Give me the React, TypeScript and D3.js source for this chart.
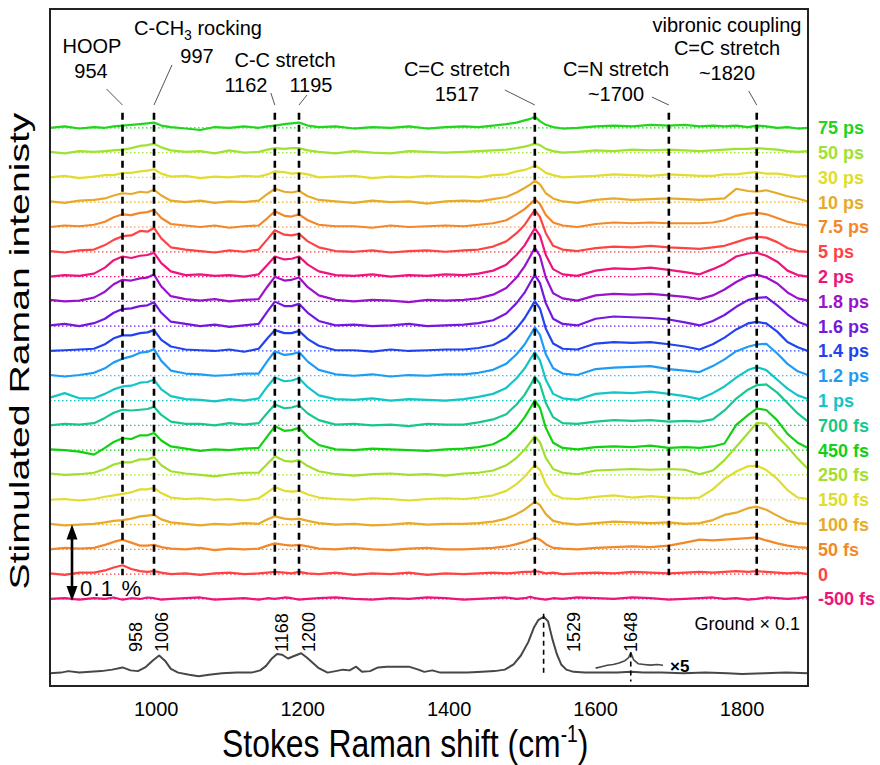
import React from 'react';
import * as d3 from 'd3';

// sampling grid of the transient spectra (cm-1)
const shifts = [855, 875, 895, 915, 930, 942, 954, 966, 978, 988, 997, 1007, 1020, 1040, 1060, 1080, 1100, 1120, 1140, 1152, 1162, 1175, 1185, 1195, 1207, 1222, 1245, 1270, 1295, 1320, 1345, 1370, 1395, 1420, 1440, 1460, 1478, 1492, 1503, 1511, 1517, 1524, 1532, 1542, 1555, 1575, 1600, 1625, 1650, 1675, 1700, 1722, 1742, 1760, 1776, 1792, 1808, 1820, 1833, 1848, 1862, 1876, 1890];

const delays = ['75 ps', '50 ps', '30 ps', '10 ps', '7.5 ps', '5 ps', '2 ps', '1.8 ps', '1.6 ps', '1.4 ps', '1.2 ps', '1 ps', '700 fs', '450 fs', '250 fs', '150 fs', '100 fs', '50 fs', '0', '-500 fs'];
const colors = ['#22d41e', '#9fe134', '#e0dc30', '#e6aa2c', '#f2882a', '#fc4444', '#ee147c', '#9a12cc', '#7418e0', '#2244f0', '#1e9cf5', '#14c4c6', '#16c88e', '#14d014', '#a2de30', '#e0dc30', '#e6aa2c', '#f2882a', '#fc4444', '#ee147c'];

// stimulated Raman gain, units of 0.001 %
const s75ps = [0, 2, -1, 1, 0, 2, 3, 4, 5, 6, 7, 3, 1, -1, -3, 1, 0, 2, 0, 2, 3, 5, 6, 7, 3, 1, 2, -1, 1, 0, 2, -1, 1, 2, 1, 3, 5, 7, 10, 12, 15, 9, 4, 1, -1, 0, 2, 3, 2, 4, 3, 4, 2, 3, 2, 3, 1, 3, 2, 0, 1, -1, 0];
const s50ps = [1, -1, 2, 1, 2, 3, 4, 6, 9, 10, 12, 7, 3, 1, 2, -1, 3, 0, 1, 4, 6, 5, 6, 6, 3, 1, -1, 2, 0, -1, 2, 1, 0, 1, 2, 3, 4, 6, 8, 10, 12, 10, 5, 2, 0, 1, 3, 2, 4, 3, 4, 3, 2, 3, 4, 5, 5, 6, 5, 4, 2, 1, 2];
const s30ps = [0, 2, -1, 1, 3, 3, 6, 6, 8, 9, 11, 5, 1, 2, -1, 1, 0, 2, 1, 4, 8, 7, 5, 6, 4, 0, 1, 2, -1, 1, 0, 2, 1, 1, 0, 3, 4, 8, 10, 13, 16, 12, 6, 3, 0, 1, 2, 4, 3, 2, 4, 3, 2, 2, 4, 4, 6, 7, 5, 5, 3, 1, 2];
const s10ps = [1, -1, 2, 3, 5, 9, 12, 11, 14, 13, 17, 9, 2, 0, 2, -1, 1, 0, 2, 11, 18, 14, 13, 15, 8, 3, 1, -1, 2, 0, 1, -2, 1, 2, 1, 4, 7, 13, 19, 24, 29, 24, 12, 5, 1, -1, 3, 5, 3, 4, 5, 4, 3, 4, 5, 18, 15, 14, 16, 12, 8, 5, 1];
const s7p5ps = [0, 2, 1, 3, 7, 13, 17, 16, 19, 20, 23, 12, 4, 2, 0, 2, -1, 1, 2, 12, 21, 15, 14, 17, 9, 3, 1, 1, -1, 2, 0, 1, 2, 1, 3, 5, 9, 17, 24, 31, 37, 31, 16, 6, 2, 0, 4, 6, 5, 6, 5, 5, 5, 6, 9, 15, 18, 19, 17, 12, 7, 4, 2];
const s5ps = [1, -1, 2, 3, 9, 16, 21, 22, 28, 27, 32, 18, 6, 3, 1, -1, 2, 0, 3, 17, 29, 23, 22, 24, 14, 6, 1, 0, 2, -1, 1, 2, 0, 2, 3, 7, 14, 25, 36, 48, 56, 47, 25, 8, 3, 1, 5, 7, 6, 8, 6, 5, 4, 6, 8, 13, 18, 20, 19, 13, 5, 1, 0];
const s2ps = [0, 2, 1, 4, 12, 22, 27, 25, 28, 29, 32, 18, 7, 2, 3, 1, 2, 0, 3, 16, 27, 23, 24, 27, 16, 7, 2, 1, 3, 0, 2, 1, 3, 2, 4, 8, 16, 29, 42, 55, 65, 55, 29, 10, 3, 1, 8, 11, 10, 12, 9, 6, 3, 10, 17, 27, 31, 32, 28, 20, 8, 2, 0];
const s1p8ps = [2, 0, 1, 5, 13, 23, 29, 28, 31, 32, 36, 20, 7, 3, 1, 3, 0, 2, 3, 20, 33, 28, 29, 32, 19, 8, 2, 0, 2, 1, -1, 2, 1, 2, 4, 9, 18, 32, 47, 61, 72, 61, 32, 11, 4, 1, 8, 10, 9, 10, 8, 6, 3, 8, 16, 26, 34, 36, 32, 24, 12, 4, 1];
const s1p6ps = [1, 3, 0, 4, 10, 18, 23, 24, 27, 28, 32, 18, 6, 3, 0, 2, -1, 1, 3, 20, 33, 27, 27, 30, 18, 7, 1, 2, 0, 1, 3, 0, 1, 2, 4, 8, 17, 31, 45, 59, 69, 58, 31, 10, 3, 1, 10, 13, 12, 11, 9, 5, 1, 7, 15, 26, 35, 38, 39, 28, 16, 6, 1];
const s1p4ps = [0, 1, 2, 3, 9, 17, 21, 21, 24, 25, 28, 15, 6, 2, 1, 0, 2, -1, 3, 17, 28, 24, 24, 27, 16, 7, 1, 1, -1, 2, 0, 1, 2, 2, 4, 8, 17, 30, 44, 57, 67, 57, 30, 10, 3, 2, 10, 12, 11, 12, 9, 6, 2, 9, 18, 29, 37, 39, 37, 26, 12, 5, 0];
const s1p2ps = [1, -1, 1, 4, 10, 18, 23, 26, 31, 32, 36, 20, 7, 3, 2, 0, 1, 3, 3, 20, 33, 28, 29, 32, 19, 8, 2, 0, 2, -1, 1, 0, 2, 2, 4, 8, 16, 29, 42, 55, 65, 55, 29, 10, 3, 1, 9, 11, 12, 13, 9, 7, 5, 13, 22, 33, 39, 42, 43, 30, 16, 6, 1];
const s1ps = [4, 10, 3, 3, 9, 15, 19, 20, 24, 25, 28, 15, 6, 2, 1, -1, 2, 0, 3, 19, 31, 26, 27, 30, 18, 7, 2, 1, 3, 0, 2, 1, 0, 2, 5, 9, 17, 30, 43, 56, 65, 54, 28, 9, 3, 1, 9, 11, 10, 12, 9, 6, 2, 10, 19, 31, 41, 45, 41, 28, 16, 7, 2];
const s700fs = [0, 2, 1, 3, 10, 17, 21, 20, 21, 22, 25, 14, 5, 2, 2, 0, 3, 1, 3, 17, 28, 23, 24, 27, 16, 7, 1, 2, 0, 1, -1, 2, 1, 1, 4, 8, 15, 28, 41, 54, 65, 56, 30, 11, 3, 2, 5, 7, 6, 7, 5, 6, 5, 8, 20, 36, 48, 54, 55, 44, 30, 16, 5];
const s450fs = [1, 0, -2, -6, 3, 11, 16, 15, 20, 20, 23, 13, 5, 2, -1, 1, 0, 2, 3, 19, 32, 26, 27, 30, 18, 7, 1, 0, 2, 1, 0, -1, 1, 2, 4, 8, 17, 30, 44, 57, 67, 57, 30, 10, 3, 1, 4, 5, 4, 6, 3, 4, 3, 5, 9, 34, 47, 56, 54, 40, 22, 10, 3];
const s250fs = [2, 0, 1, 3, 8, 14, 17, 17, 21, 21, 24, 13, 5, 2, 0, -2, 1, 3, 3, 15, 25, 19, 18, 20, 12, 5, 1, -1, 1, 2, 0, 1, -1, 2, 3, 6, 13, 23, 34, 44, 52, 44, 23, 8, 3, 1, 6, 7, 8, 7, 8, 7, 1, 6, 20, 38, 56, 70, 69, 52, 38, 22, 8];
const s150fs = [0, 1, -1, 1, 4, 6, 8, 10, 14, 14, 16, 9, 3, 1, 2, 0, 1, -1, 2, 10, 17, 12, 11, 12, 7, 3, 1, 0, 2, 1, -1, 1, 2, 1, 3, 6, 12, 21, 31, 40, 47, 40, 21, 7, 2, 1, 4, 6, 3, 5, 3, 2, 3, 14, 28, 38, 45, 46, 40, 28, 13, 3, 1];
const s100fs = [1, -1, 0, 1, 3, 5, 6, 8, 11, 12, 13, 7, 3, 1, -1, 1, 0, 2, 1, 7, 11, 8, 7, 8, 5, 2, 0, 1, -1, 0, 2, 0, 1, 1, 2, 4, 8, 14, 20, 26, 31, 26, 14, 5, 2, 0, 2, 4, 3, 2, 3, 1, 2, 6, 13, 16, 22, 24, 20, 12, 5, 2, 1];
const s50fs = [0, 2, 1, 2, 6, 10, 13, 9, 5, 5, 6, 3, 1, 0, 2, -1, 1, 0, 1, 5, 8, 6, 5, 6, 4, 1, 0, 2, 0, -1, 1, 2, 0, 0, 1, 2, 4, 7, 10, 13, 16, 13, 7, 2, 1, 0, 2, 3, 4, 3, 5, 9, 13, 12, 13, 14, 15, 16, 12, 8, 5, 3, 2];
const s0fs = [1, -1, 2, 2, 5, 9, 12, 7, 4, 3, 4, 2, 0, 1, -1, 1, 2, 0, 1, 2, 3, 2, 1, 3, 1, 0, 2, -1, 1, 0, 2, -1, 1, 0, 1, 2, 1, 2, 3, 3, 4, 3, 1, 2, 0, 1, 2, 1, 3, 2, 1, 2, 3, 2, 3, 4, 3, 4, 3, 2, 1, 2, 0];
const sm500fs = [0, 1, -1, 1, 0, 2, -1, 1, 0, 2, 1, -1, 0, 1, 2, -1, 0, 1, -1, 1, 0, 2, 1, -1, 0, 1, 2, 0, -1, 1, 0, 2, 1, -1, 0, 1, 2, 0, 1, 3, 1, 0, -1, 1, 0, 2, 1, 0, 2, 1, -1, 0, 1, 2, 0, 1, -1, 0, 2, 1, 0, 1, 3];

const spectra = [s75ps, s50ps, s30ps, s10ps, s7p5ps, s5ps, s2ps, s1p8ps, s1p6ps, s1p4ps, s1p2ps, s1ps, s700fs, s450fs, s250fs, s150fs, s100fs, s50fs, s0fs, sm500fs];

// ground state spectrum (shown x 0.1), same units
const groundShifts = [855, 870, 880, 895, 910, 925, 940, 954, 965, 975, 985, 995, 1004, 1012, 1020, 1030, 1045, 1058, 1072, 1090, 1110, 1130, 1142, 1150, 1158, 1165, 1172, 1180, 1190, 1198, 1206, 1214, 1222, 1234, 1245, 1255, 1264, 1273, 1281, 1292, 1303, 1315, 1330, 1345, 1358, 1366, 1377, 1388, 1405, 1425, 1445, 1462, 1476, 1488, 1498, 1508, 1516, 1522, 1529, 1535, 1541, 1547, 1553, 1560, 1570, 1585, 1610, 1630, 1648, 1665, 1690, 1720, 1750, 1780, 1800, 1830, 1860, 1890];
const groundValues = [0, 1, 3, 1, 2, 3, 5, 8, 4, 3, 8, 17, 24, 17, 6, 1, -2, -4, -2, 0, 1, 1, 4, 10, 20, 26, 25, 20, 24, 27, 21, 14, 7, 1, 3, 5, 4, 9, 2, 3, 8, 9, 9, 9, 5, 2, 4, 1, 1, 1, 2, 3, 5, 12, 24, 42, 62, 72, 76, 70, 46, 26, 12, 5, 2, 1, 1, 1, 2, 1, 1, 0, 1, 0, -1, 0, 1, 0];
// x5 magnified part of the ground spectrum
const insetShifts = [1600, 1608, 1616, 1624, 1632, 1640, 1645, 1648, 1652, 1658, 1666, 1675, 1684, 1692];
const insetValues = [7, 9, 11, 12, 14, 17, 21, 28, 18, 13, 12, 11, 12, 11];

const groundPeaks = [958, 1006, 1168, 1200, 1529, 1648];
const modeShifts = [954, 997, 1162, 1195, 1517, 1700, 1820];
const xTicks = [1000, 1200, 1400, 1600, 1800];

const W = 880;
const H = 765;
const plot = { left: 50, right: 808, top: 9, bottom: 686 };
const step = 100 / 3; // vertical offset between traces
const groundOffset = -100;
const font = "'Liberation Sans', Arial, Helvetica, sans-serif";

export default function App() {
  const x = d3.scaleLinear().domain([855, 1890]).range([plot.left, plot.right]);
  const y = d3.scaleLinear().domain([-117, 793]).range([plot.bottom, plot.top]);
  const offsetOf = (i: number) => (spectra.length - 1 - i) * step;

  const traceLine = (off: number) =>
    d3.line<number>()
      .x((_, i) => x(shifts[i]))
      .y((v) => y(v + off));

  const groundLine = d3.line<number>()
    .x((_, i) => x(groundShifts[i]))
    .y((v) => y(v + groundOffset));
  const insetLine = d3.line<number>()
    .x((_, i) => x(insetShifts[i]))
    .y((v) => y(v + groundOffset));

  const dashTop = y(offsetOf(0)) - 15;
  const dashBottom = y(offsetOf(18)) + 1;

  // label layout for the mode annotations
  const annot = [
    { t: 'HOOP', cx: 92, y: 53 },
    { t: '954', cx: 91, y: 78 },
    { t: '997', cx: 197, y: 63 },
    { t: 'C-C stretch', cx: 285, y: 67 },
    { t: '1162', cx: 246, y: 92 },
    { t: '1195', cx: 311, y: 92 },
    { t: 'C=C stretch', cx: 457, y: 76 },
    { t: '1517', cx: 457, y: 101 },
    { t: 'C=N stretch', cx: 616, y: 76 },
    { t: '~1700', cx: 616, y: 101 },
    { t: 'vibronic coupling', cx: 727, y: 32 },
    { t: 'C=C stretch', cx: 727, y: 55 },
    { t: '~1820', cx: 727, y: 80 },
  ];
  const leaders = [[-16, -16], [18, -40], [-4, -12], [8, -10], [-30, -15], [-17, -8], [-8, -14]];
  const groundLabelDx = [17, 7, 9, 12, 36, 6];

  const arrowX = 72;
  const aTop = y(100);
  const aBot = y(0);

  return (
    <svg width={W} height={H} style={{ position: 'absolute', left: 0, top: 0 }} fontFamily={font}>
      <rect width={W} height={H} fill="#fff" />

      {spectra.map((_, i) => (
        <line key={'b' + i} x1={plot.left} x2={plot.right} y1={y(offsetOf(i))} y2={y(offsetOf(i))}
          stroke={colors[i]} strokeWidth={1.2} strokeDasharray="1.5 2.5" />
      ))}
      {spectra.map((s, i) => (
        <path key={'s' + i} d={traceLine(offsetOf(i))(s) || ''} fill="none" stroke={colors[i]}
          strokeWidth={2.2} strokeLinejoin="round" />
      ))}

      <path d={groundLine(groundValues) || ''} fill="none" stroke="#474747" strokeWidth={2} strokeLinejoin="round" />
      <path d={insetLine(insetValues) || ''} fill="none" stroke="#474747" strokeWidth={1.6} strokeLinejoin="round" />

      {modeShifts.map((m) => (
        <line key={'m' + m} x1={x(m)} x2={x(m)} y1={dashTop} y2={dashBottom} stroke="#000" strokeWidth={2.6} strokeDasharray="7 5" />
      ))}
      <line x1={x(1529)} x2={x(1529)} y1={y(groundOffset + 80)} y2={y(groundOffset - 3)} stroke="#000" strokeWidth={1.6} strokeDasharray="5 4" />
      <line x1={x(1648)} x2={x(1648)} y1={y(groundOffset + 28)} y2={y(groundOffset - 11)} stroke="#000" strokeWidth={1.6} strokeDasharray="5 4" />

      {modeShifts.map((m, i) => (
        <line key={'l' + m} x1={x(m)} y1={105} x2={x(m) + leaders[i][0]} y2={105 + leaders[i][1]} stroke="#555" strokeWidth={1} />
      ))}

      <rect x={plot.left} y={plot.top} width={plot.right - plot.left} height={plot.bottom - plot.top}
        fill="none" stroke="#222" strokeWidth={2} />

      {/* mode annotations */}
      <g fontSize={20} fill="#000" textAnchor="middle">
        {annot.map((a, i) => (
          <text key={'a' + i} x={a.cx} y={a.y}>{a.t}</text>
        ))}
        <text x={198} y={35}>
          C-CH<tspan fontSize={14} dy={5}>3</tspan><tspan dy={-5}> rocking</tspan>
        </text>
      </g>

      {/* delay labels */}
      <g fontSize={18} fontWeight="bold">
        {delays.map((d, i) => (
          <text key={'d' + i} x={818} y={y(offsetOf(i)) + 6.5} fill={colors[i]}>{d}</text>
        ))}
      </g>

      {/* ground state labels */}
      <g fontSize={18} fill="#000">
        {groundPeaks.map((p, i) => (
          <text key={'g' + p} transform={`translate(${x(p) + groundLabelDx[i]},652) rotate(-90)`}>{p}</text>
        ))}
        <text x={800} y={630} textAnchor="end">Ground × 0.1</text>
        <text x={670} y={672} fontSize={17} fontWeight="bold">×5</text>
      </g>

      {/* 0.1 % scale arrow */}
      <line x1={arrowX} x2={arrowX} y1={aTop + 12} y2={aBot - 12} stroke="#000" strokeWidth={2.6} />
      <path d={`M${arrowX},${aTop} L${arrowX - 5.5},${aTop + 15} L${arrowX + 5.5},${aTop + 15} Z`} fill="#000" />
      <path d={`M${arrowX},${aBot + 2} L${arrowX - 5.5},${aBot - 13} L${arrowX + 5.5},${aBot - 13} Z`} fill="#000" />
      <text x={80} y={596} fontSize={22} letterSpacing={1.2}>0.1 %</text>

      {/* x axis */}
      <g fontSize={20} textAnchor="middle">
        {xTicks.map((t) => (
          <text key={'t' + t} x={x(t)} y={716}>{t}</text>
        ))}
      </g>
      <text transform="translate(222,757) scale(0.84,1)" fontSize={38}>
        Stokes Raman shift (cm<tspan fontSize={23} dy={-15}>-1</tspan><tspan dy={15}>)</tspan>
      </text>
      <text transform="translate(29,351) rotate(-90) scale(1.4,1)" fontSize={28} textAnchor="middle">
        Stimulated Raman intenisty
      </text>
    </svg>
  );
}
